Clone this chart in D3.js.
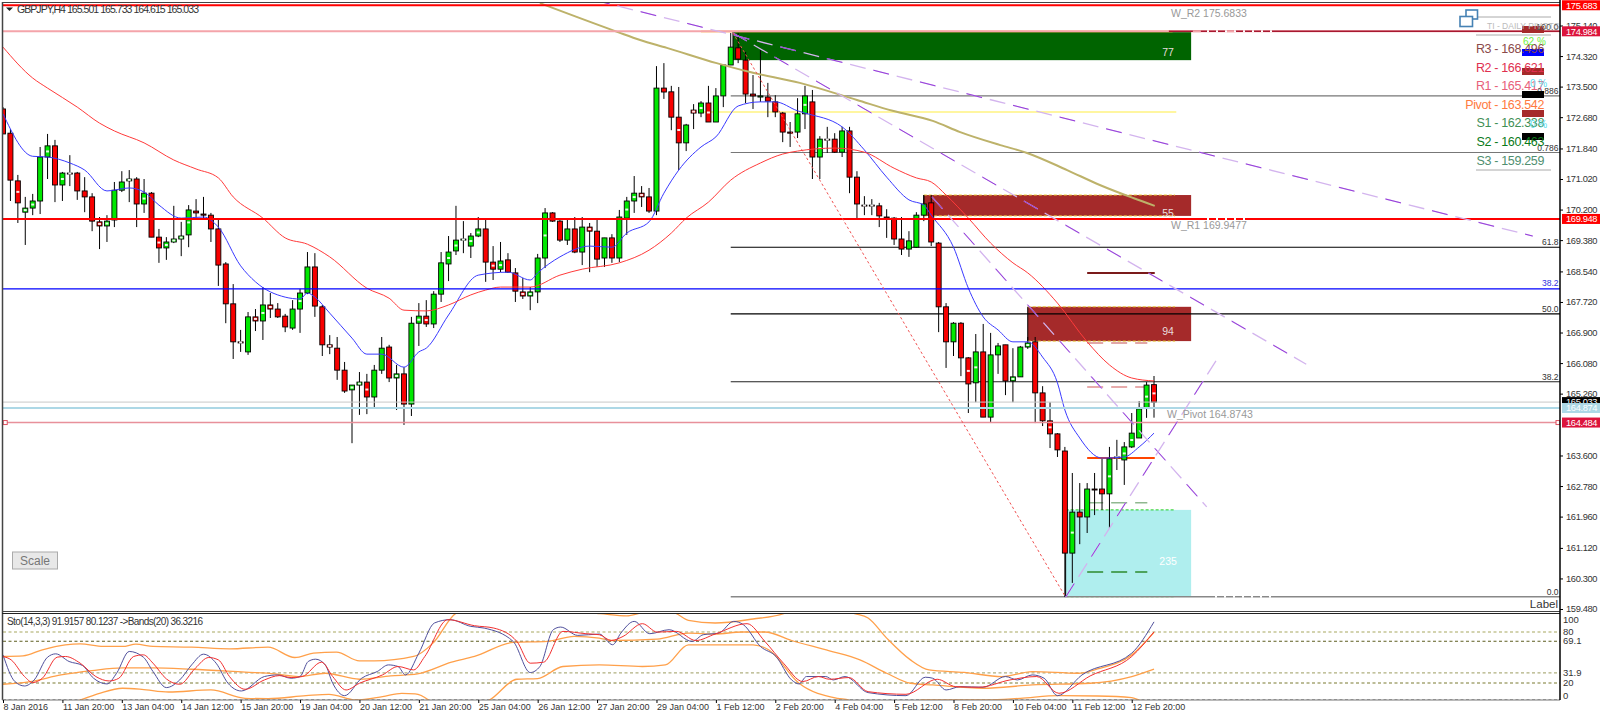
<!DOCTYPE html>
<html><head><meta charset="utf-8"><script src="https://cdn.jsdelivr.net/npm/d3@7"></script>
<style>html,body{margin:0;padding:0;background:#fff}svg{display:block}text{font-family:"Liberation Sans",Arial,sans-serif}</style></head><body><svg id="c" width="1600" height="720"></svg><script>
const opens=[172.90,172.25,170.97,170.13,170.24,170.43,171.61,171.91,170.86,171.18,171.18,170.70,170.54,169.87,169.76,169.92,170.72,170.97,171.02,170.35,170.64,169.46,169.17,169.33,169.41,169.52,170.16,170.08,170.05,169.68,168.74,167.67,166.65,166.38,167.32,167.21,167.64,167.53,167.34,167.02,167.53,167.96,168.66,167.59,166.57,166.48,165.89,165.36,165.49,165.57,165.17,165.89,166.51,165.68,165.79,164.98,167.15,167.34,167.13,167.93,168.74,169.09,169.38,169.22,169.49,169.68,168.79,168.60,168.85,168.50,167.99,167.88,167.99,168.90,170.11,169.89,169.38,169.68,169.06,169.73,169.62,168.90,169.44,168.90,169.97,170.43,170.64,170.54,170.16,173.46,173.36,172.68,171.99,172.87,172.79,173.06,172.55,173.25,174.08,174.54,174.21,173.30,173.22,173.22,173.09,172.79,172.28,172.28,172.77,173.09,171.61,172.09,172.09,171.74,172.31,171.07,170.32,170.32,170.30,170.00,169.97,169.41,169.14,169.19,170.05,170.38,169.30,167.59,166.65,167.15,166.22,165.55,166.38,164.63,166.30,166.57,165.60,165.71,166.51,166.65,165.28,164.53,164.18,163.72,160.98,162.08,161.95,162.70,162.70,162.57,163.54,163.48,163.83,164.07,164.87,165.501];
const highs=[172.95,172.36,171.13,170.54,170.62,171.88,172.23,172.07,171.21,171.66,171.21,171.07,170.64,170.00,170.05,170.94,171.23,171.26,171.07,171.02,170.67,169.68,169.46,170.30,169.87,170.32,170.48,170.54,170.11,169.92,168.79,168.20,166.97,167.45,167.53,168.12,167.96,167.69,167.40,167.77,168.07,169.06,169.03,167.64,166.83,166.78,166.11,165.49,165.84,165.79,166.03,166.78,166.57,166.03,165.97,167.32,167.69,167.77,168.01,169.06,169.49,170.30,169.89,169.57,170.00,169.92,169.22,169.33,169.03,168.63,168.36,168.12,169.01,170.24,170.13,169.92,169.97,170.00,170.00,169.84,169.92,169.44,169.54,170.19,170.54,171.10,170.83,170.78,174.05,174.13,173.52,173.49,172.50,173.03,173.11,173.52,173.46,174.08,174.94,174.94,174.43,173.81,174.48,173.60,173.27,172.82,172.55,173.19,173.52,173.41,172.17,172.42,172.25,172.42,172.42,171.23,170.56,170.48,170.38,170.21,170.00,170.00,169.62,170.13,170.59,170.59,169.33,167.69,167.18,167.18,166.24,166.86,167.13,166.89,166.62,166.57,166.48,166.54,166.78,166.78,165.46,165.03,164.20,163.83,163.13,162.86,162.86,163.13,163.51,163.83,164.02,163.96,164.74,165.06,165.57,165.733];
const lows=[172.23,170.43,169.84,169.25,170.05,170.08,171.02,170.40,170.43,170.83,170.46,170.13,169.62,169.14,169.33,169.73,170.67,170.40,169.73,170.11,169.46,168.77,168.85,169.30,168.95,169.19,169.97,169.97,169.33,168.15,167.15,166.19,166.38,166.30,166.94,166.70,167.29,167.29,166.91,166.97,166.89,167.93,167.32,166.27,166.32,165.63,165.28,163.93,164.69,164.71,164.90,165.79,165.57,164.82,164.42,164.66,166.54,167.05,167.02,167.72,168.28,168.98,169.03,168.90,169.46,168.26,168.31,168.52,168.50,167.72,167.80,167.50,167.69,168.63,169.87,169.33,169.25,169.03,168.71,168.52,168.66,168.66,168.77,168.79,169.52,170.11,170.27,170.11,170.05,173.17,172.33,171.26,171.77,172.36,172.68,172.55,172.55,172.95,174.08,174.13,173.06,172.90,173.09,172.68,172.68,172.01,171.88,172.12,172.36,171.02,171.02,171.72,171.72,171.61,170.64,169.97,170.05,170.05,169.73,169.44,169.25,168.98,168.93,169.17,169.89,169.22,166.91,165.95,166.27,165.73,164.74,165.03,164.63,164.50,165.79,165.22,165.03,165.71,166.46,164.47,164.39,163.80,163.56,159.80,160.18,161.22,161.52,162.00,162.14,161.65,163.21,162.81,163.80,164.07,164.61,164.615];
const closes=[172.23,170.99,170.38,170.24,170.43,171.61,171.91,170.86,171.18,171.16,170.70,170.54,169.89,169.76,169.89,170.72,170.94,171.02,170.35,170.64,169.46,169.17,169.33,169.41,169.49,170.19,170.11,170.05,169.68,168.71,167.67,166.65,166.62,167.32,167.21,167.64,167.53,167.32,167.05,167.53,167.96,168.66,167.61,166.57,166.51,165.89,165.33,165.49,165.57,165.17,165.89,166.48,165.68,165.79,164.98,167.15,167.34,167.13,167.93,168.77,169.06,169.38,169.41,169.49,169.68,168.79,168.60,168.82,168.52,168.01,167.88,167.99,168.90,170.11,169.89,169.38,169.68,169.06,169.73,169.62,168.87,169.44,168.90,170.00,170.43,170.64,170.54,170.16,173.46,173.355,172.68,171.99,172.47,172.79,173.06,172.55,173.25,174.08,174.56,174.24,173.30,173.25,173.25,173.11,172.82,172.28,172.25,172.77,173.25,171.61,172.09,172.07,171.74,172.31,171.07,170.35,170.30,170.30,170.03,169.97,169.41,169.14,169.36,170.05,170.35,169.33,167.59,166.65,167.15,166.22,165.52,166.38,164.63,166.30,166.54,165.60,165.71,166.51,166.62,165.28,164.53,164.18,163.75,160.98,162.08,161.95,162.70,162.68,162.57,163.51,163.56,163.83,164.20,164.85,165.49,165.033];
const markedCandles=[2,3,4,6,8,9,13,14,17,19,21,22,23,24,25,32,34,35,36,40,44,47,48,49,53,56,57,60,61,62,63,64,66,67,70,71,73,79,84,85,86,91,93,94,95,108,110,111,116,117,130,131,136,138,141,144,149,150,151,152,154,155];

const blueIdx=[0,4,6,9,11,14,17,19,21,24,27,29,32,34,38,40,41,42,44,47,49,51,54,56,57,60,64,68,71,72,75,79,82,84,87,89,91,94,96,99,102,104,107,108,113,116,119,122,124,125,128,130,132,134,136,138,140,142,143,145,148,151,153,155];
const blueVal=[172.77,171.63,171.61,171.45,171.26,170.70,170.78,170.67,170.32,169.97,170.00,169.73,168.69,168.26,167.85,167.80,167.96,167.85,167.42,166.75,166.32,166.32,165.97,166.38,166.48,167.37,168.44,168.52,168.31,168.50,168.93,169.22,169.19,169.57,169.87,170.64,171.26,171.88,172.15,172.98,173.09,173.09,172.85,172.79,172.42,171.80,171.07,170.46,170.32,170.05,169.19,168.09,167.32,166.97,166.65,166.65,166.24,165.55,164.82,164.07,163.53,163.56,163.83,164.20];
const redIdx=[0,4,6,10,13,15,19,23,26,29,31,35,38,41,44,49,52,54,57,60,63,65,67,71,75,78,83,87,90,92,95,98,102,105,107,112,116,120,123,125,127,130,133,136,138,142,146,149,152,155];
const redVal=[174.56,173.73,173.46,172.95,172.52,172.31,171.99,171.53,171.29,171.05,170.54,169.97,169.44,169.27,168.93,168.09,167.82,167.50,167.48,167.64,167.91,168.04,168.12,168.12,168.44,168.60,168.77,169.11,169.57,169.97,170.40,170.99,171.45,171.69,171.77,171.85,171.74,171.31,171.05,170.94,170.59,169.97,169.30,168.77,168.50,167.69,166.65,166.03,165.68,165.60];
const tanIdx=[72.3,82.7,85.8,89.4,96.1,100.6,107.3,115,119.8,125.2,128.9,134.3,137.9,143.3,147.7,152.2,155.1];
const tanVal=[175.74,174.97,174.75,174.54,174.13,173.89,173.60,173.14,172.85,172.58,172.28,171.93,171.72,171.26,170.86,170.51,170.30];

const stoIdx=[0,1.6,2.9,4.2,6,7.1,8.9,10.7,12.2,14,15.3,17,18.9,20.2,22,23.8,25.4,27,28.7,30.3,32.1,35.2,37,38.8,40,41.1,42.1,43.4,44.4,46,48.3,50.4,51.9,53.2,54.2,56,58.1,60.2,63,64.8,68.7,71,72.3,74.1,75.1,77.4,80.3,82.1,83.2,85,87.1,89.7,92.8,94.3,96.4,98.4,99.7,102,104.1,106.2,107.2,108.2,110.8,111.8,113.4,116.5,121.6,124.2,125.2,127,128.9,132,135,136.6,138.6,140.2,142,145.3,152,155];
const stoVal=[53.1,21.7,16.5,23.6,50.4,54.3,45.3,40.6,25.6,18.9,31.5,57.1,50.4,33.5,14.6,23.6,41.3,53.9,43.3,19.7,10.6,27.6,29.5,25.6,27.6,45.3,48,41.3,19.7,5.1,25.6,33.5,41.3,39.4,29.5,55.1,90.6,94.5,86.6,84.6,68.9,32.3,39.4,82.7,85.8,76,77.6,65,78.7,92.5,78,82.7,68.9,76.8,78.7,92.5,88.6,63,51.2,23.6,18.9,27.6,27.6,23.6,27.6,8.7,5.1,26.8,25.6,11.8,15.7,15,27.6,23.6,29.5,25.6,5.1,29.5,55.1,91.92];
const sigIdx=[0,1.1,2.9,4,5.3,7.3,8.4,10.4,12.5,14.3,15.6,17.6,18.9,20.2,22,23.8,25.9,27.7,29,30.5,32.6,35.2,37.2,38.8,40.3,42.9,44.4,46.2,48,51.1,53.2,55.3,56.8,59.9,63.5,66.1,69.2,71,72.8,75.4,78.5,80.3,81.9,83.5,86.1,88.1,90.7,93.3,95.9,100.2,102.6,105.1,107.7,109.8,111.3,113.9,116.5,121.6,125.8,128.3,131.4,135.6,139.2,142.2,146.4,152,155];
const sigVal=[51.2,47.2,27.6,20.5,25.6,50.4,51.2,43.3,27.6,22.4,25.6,51.2,53.1,43.3,24.8,18.5,37.4,50,47.2,27.6,12.6,23.6,28.7,26.4,27.6,44.5,27.6,11.8,19.7,29.5,39.4,35.4,51.2,94.5,87.4,84.6,68.9,43.3,44.5,80.7,78,76.8,70,74.8,89.8,79.9,80.7,70,77.6,89.8,68.9,43.3,21.7,27.6,24.4,26.4,9.8,6.7,24.4,15.7,15,23.6,27.6,7.9,28.3,51.2,80.12];
const upIdx=[0,2.7,5.3,8.4,10.4,13.5,16.1,17.9,20.2,25.4,30.5,35.7,39.3,41.8,44.9,48,50,55.3,57.9,61,62,70,80.4,84,85.5,88,90.7,92.3,95.9,101,105.1,108,114.7,116.5,119,122.2,124.7,129.4,134.5,138.6,144.8,147.4,152,155];
const upVal=[51.2,51.9,59.1,64.9,66.1,63,63,65.8,63,62.2,60.2,62.2,50,55.1,56.3,46,46,51.2,66.9,102,105,108,101.6,99,101.6,110,101.6,93.7,90.6,95.3,101.6,115,101.6,96.5,72.8,47.2,35.4,32.5,27.6,33.5,31.5,36.6,53.1,79.5];
const midIdx=[0,3.7,7.8,12,16.1,20.2,25.4,32.6,36.7,39.8,43.4,48,52.2,55.8,60.4,63.5,68.7,73.3,76.9,80.3,81.9,88.1,92.3,95.9,99.5,102.6,106.2,111.3,115.4,119,122.2,125.2,132,138.6,146.4,152,155];
const midVal=[18.5,21.7,29.5,34.6,37.8,37.8,36.2,32.7,30.7,27.6,31.5,24.4,28.3,30.7,44.5,51.2,67.7,68.9,74.8,72.8,70,71.7,78.7,77.6,80,80,70,57.9,47.2,31.5,19.7,17.7,13.8,17.7,19.7,27.6,36.3];
const lowIdx=[8,10.4,13,16.1,18.7,22.3,28,32.6,35.7,40.8,43.9,47.5,51.1,53.7,55.5,57.3,58,64,65.5,69.2,72,75.4,80.3,86.1,89.2,92.3,101,103.1,107.2,112.4,113.9,115,122,123.7,132.5,137,142.2,147.4,152,153,155];
const lowVal=[-5,0,7.9,13.8,12.6,9.4,11.8,2,1.6,5.1,6.7,0,3.9,7.9,7.1,0,-5,-5,0,24.4,25.2,39.4,41.3,39.4,41.3,64.9,64.9,59.1,19.7,2,0,-5,-5,0,0,2,5.1,4.7,2.8,0,-5];

const priceTicks=[175.14,174.32,173.5,172.68,171.84,171.02,170.2,169.38,168.54,167.72,166.9,166.08,165.26,163.6,162.78,161.96,161.12,160.3,159.48];
const dateIdx=[0,8,16,24,32,40,48,56,64,72,80,88,96,104,112,120,128,136,144,152];
const dateLabels=["8 Jan 2016","11 Jan 20:00","13 Jan 04:00","14 Jan 12:00","15 Jan 20:00","19 Jan 04:00","20 Jan 12:00","21 Jan 20:00","25 Jan 04:00","26 Jan 12:00","27 Jan 20:00","29 Jan 04:00","1 Feb 12:00","2 Feb 20:00","4 Feb 04:00","5 Feb 12:00","8 Feb 20:00","10 Feb 04:00","11 Feb 12:00","12 Feb 20:00"];
const stoLevels=[80,69.1,31.9,20,0];
const stoLabels=[100,80,69.1,31.9,20,0];

const levelPrices=[175.683,174.984,169.948,168.07,165.033,164.874,164.484];
const tagPrices=[175.683,174.984,169.948,165.033,164.874,164.484];
const fibPrices=[173.25,171.73,169.19,167.40,165.58,159.81];
const fibLabels=["0.886","0.786","61.8","50.0","38.2","0.0"];
const yellowPrice=172.82;

const zoneStart=[98.3,124,138,143.1];
const zoneEnd=[160,160,160,160];
const zoneTop=[174.98,170.59,167.59,162.14];
const zoneBottom=[174.21,170.03,166.67,159.81];
const zoneLabels=["77","55","94","235"];
const zoneLabelPrice=[174.44,170.12,166.94,160.77];

const trendFrom=[[79.6,175.824],[98.3,174.94],[125.1,170.54],[143.1,159.80]];
const trendTo=[[206,169.49],[175.5,166.05],[162.1,162.22],[163.6,166.22]];
const dotFrom=[98.3,174.94], dotTo=[143.1,159.80];
const segStart=146, segEnd=155.1;
const segPrices=[168.50,166.62,165.44,163.53,162.33,160.47];

const pivotTexts=["R3 - 168.496","R2 - 166.621","R1 - 165.417","Pivot - 163.542","S1 - 162.338","S2 - 160.463","S3 - 159.259"];

const svg=d3.select('#c');
const X=d3.scaleLinear().domain([0,155]).range([3,1154]);
const Y=d3.scaleLinear().domain([175.14,159.48]).range([25.5,609]);
const S=d3.scaleLinear().domain([0,100]).range([700,615]);
const defs=svg.append('defs');
defs.append('clipPath').attr('id','m').append('rect').attr('x',3).attr('y',3).attr('width',1557).attr('height',608);
defs.append('clipPath').attr('id','s').append('rect').attr('x',3).attr('y',614).attr('width',1557).attr('height',86);
const main=svg.append('g').attr('clip-path','url(#m)');
const sub=svg.append('g').attr('clip-path','url(#s)');
const L=1560;

// zones
const zoneFill=['#006400','#a52a2a','#a52a2a','#afeeee'];
const zoneEdge=['#ffa500','#e8c830','#e8c830','#20d020'];
zoneTop.forEach((t,i)=>{
  const x0=X(zoneStart[i]),x1=X(zoneEnd[i]),y0=Y(t),y1=Y(zoneBottom[i]);
  main.append('rect').attr('x',x0).attr('y',y0).attr('width',x1-x0).attr('height',y1-y0).attr('fill',zoneFill[i]);
  main.append('line').attr('x1',x0).attr('x2',x0).attr('y1',y0).attr('y2',y1).attr('stroke','#000');
  if(i>0)[y0,y1].forEach(y=>main.append('line').attr('x1',x0).attr('x2',x1-16).attr('y1',y).attr('y2',y).attr('stroke',zoneEdge[i]).attr('stroke-dasharray','3 2'));
  else main.append('line').attr('x1',X(94)).attr('x2',X(157.5)).attr('y1',y0).attr('y2',y0).attr('stroke',zoneEdge[i]).attr('stroke-width',1.5);
  main.append('text').attr('x',x1-23).attr('y',Y(zoneLabelPrice[i])+4).attr('text-anchor','middle').attr('font-size',10.5).attr('fill',i==3?'#fff':'#e8dcdc').text(zoneLabels[i]);
});

// fib lines
const fibCol=['#777','#777','#000','#000','#222','#888'];
fibPrices.forEach((p,i)=>{
  main.append('line').attr('x1',X(98)).attr('x2',L).attr('y1',Y(p)).attr('y2',Y(p)).attr('stroke',fibCol[i]).attr('stroke-width',i==5?1.5:1.1);
  main.append('text').attr('x',1558.5).attr('y',Y(p)-2).attr('text-anchor','end').attr('font-size',8.5).attr('fill','#333').text(fibLabels[i]);
});
main.append('text').attr('x',1558.5).attr('y',Y(168.07)-3).attr('text-anchor','end').attr('font-size',8.5).attr('fill','#3030e0').text('38.2');
main.append('line').attr('x1',X(94)).attr('x2',X(158)).attr('y1',Y(yellowPrice)).attr('y2',Y(yellowPrice)).attr('stroke','#fff6a0').attr('stroke-width',2);

// short segments
const segCol=['#7a1a1a','#d88a8a','#e09090','#ff4500','#90b890','#2e8b2e'];
const segDash=[null,'16 8',"16 8",null,'16 8','16 8'];
segPrices.forEach((p,i)=>{
  const l=main.append('line').attr('x1',X(segStart)).attr('x2',X(i==3||i==0?segEnd:segEnd-1)).attr('y1',Y(p)).attr('y2',Y(p)).attr('stroke',segCol[i]).attr('stroke-width',i==3||i==0?2:1.5);
  if(segDash[i])l.attr('stroke-dasharray',segDash[i]);
});

// candles
const bodyW=5;
const cand=main.append('g');
closes.forEach((c,i)=>{
  const o=opens[i],x=X(i);
  cand.append('line').attr('x1',x).attr('x2',x).attr('y1',Y(highs[i])).attr('y2',Y(lows[i])).attr('stroke','#000');
  const top=Y(Math.max(o,c)),bot=Y(Math.min(o,c));
  cand.append('rect').attr('x',x-bodyW/2).attr('y',top).attr('width',bodyW).attr('height',Math.max(bot-top,1)).attr('fill',c>=o?'#00e800':'#f80000').attr('stroke','#000').attr('stroke-width',0.9);
});
markedCandles.forEach(i=>{
  cand.append('rect').attr('x',X(i)-1.5).attr('y',Y((opens[i]+closes[i])/2)-1).attr('width',3).attr('height',2).attr('fill','#fff').attr('opacity',0.9);
});

// moving averages
const lineM=d3.line().x(d=>X(d[0])).y(d=>Y(d[1])).curve(d3.curveMonotoneX);
const zip=(a,b)=>a.map((v,i)=>[v,b[i]]);
main.append('path').attr('d',lineM(zip(tanIdx,tanVal))).attr('fill','none').attr('stroke','#bdb26a').attr('stroke-width',2);
main.append('path').attr('d',lineM(zip(blueIdx,blueVal))).attr('fill','none').attr('stroke','#3a3aff').attr('stroke-width',1);
main.append('path').attr('d',lineM(zip(redIdx,redVal))).attr('fill','none').attr('stroke','#ff3a3a').attr('stroke-width',1);

// levels
const lvlCol=['#ff0000','#f4a4aa','#ff0000','#0000ff','#c8c8c8','#add8e6','#e8909a'];
const lvlW=[2,2,2,1.3,1,2,1.6];
levelPrices.forEach((p,i)=>main.append('line').attr('x1',3).attr('x2',L).attr('y1',Y(p)).attr('y2',Y(p)).attr('stroke',lvlCol[i]).attr('stroke-width',lvlW[i]));
main.append('line').attr('x1',X(157)).attr('x2',L).attr('y1',Y(174.984)).attr('y2',Y(174.984)).attr('stroke','#a81830').attr('stroke-width',1.5);
main.append('line').attr('x1',X(157)).attr('x2',X(157)+90).attr('y1',Y(174.984)).attr('y2',Y(174.984)).attr('stroke','#f4a4aa').attr('stroke-width',2).attr('stroke-dasharray','0 24 8 2');
// white text-like gaps crossing lines
[[174.984,1207,1272],[169.948,1207,1245],[159.81,1215,1272]].forEach(d=>main.append('line').attr('x1',d[1]).attr('x2',d[2]).attr('y1',Y(d[0])).attr('y2',Y(d[0])).attr('stroke','#fff').attr('stroke-width',2).attr('stroke-dasharray','2 7'));
[X(0.3),1558].forEach(x=>main.append('rect').attr('x',x-2).attr('y',Y(164.484)-2).attr('width',4).attr('height',4).attr('fill','#fff').attr('stroke','#e05060'));

// trend lines
trendFrom.forEach((a,i)=>{
  const b=trendTo[i];
  const ln=main.append('g');
  ln.append('line').attr('x1',X(a[0])).attr('y1',Y(a[1])).attr('x2',X(b[0])).attr('y2',Y(b[1])).attr('stroke','#d3b4ee').attr('stroke-width',1.3).attr('stroke-dasharray','16 8');
  ln.append('line').attr('x1',X(a[0])).attr('y1',Y(a[1])).attr('x2',X(b[0])).attr('y2',Y(b[1])).attr('stroke','#9030d8').attr('stroke-width',0.9).attr('stroke-dasharray','16 32');
});
main.append('line').attr('x1',X(dotFrom[0])).attr('y1',Y(dotFrom[1])).attr('x2',X(dotTo[0])).attr('y2',Y(dotTo[1])).attr('stroke','#f05050').attr('stroke-dasharray','2.5 2.5');

// text labels on chart
[['W_R2 175.6833',1171,17],['W_R1 169.9477',1171,229],['W_Pivot 164.8743',1167,418]].forEach(d=>main.append('text').attr('x',d[1]).attr('y',d[2]).attr('font-size',10.5).attr('fill','#999').text(d[0]));
svg.append('text').attr('x',1558).attr('y',608).attr('text-anchor','end').attr('font-size',11.5).attr('fill','#333').text('Label');
svg.append('text').attr('x',17).attr('y',13).attr('font-size',10.5).attr('fill','#333').attr('textLength',182).text('GBPJPY,H4  165.501 165.733 164.615 165.033');
svg.append('path').attr('d','M6 7.5h7l-3.5 3.5z').attr('fill','#222');

// dashboard block
const blockCol=['#a52a2a','#0000ff','#a52a2a','#000','#a52a2a','#000'];
const blockY=[26,49,68,91,110,133];
blockY.forEach((y,i)=>svg.append('rect').attr('x',1522).attr('y',y).attr('width',22).attr('height',7).attr('fill',blockCol[i]));
[17,35,170].forEach(y=>svg.append('line').attr('x1',1476).attr('x2',1551).attr('y1',y).attr('y2',y).attr('stroke','#aaa'));
const pivCol=['#8b4a4a','#e0304f','#e8607a','#ff7a40','#3f8f55','#0a7a1a','#4f8f70'];
pivotTexts.forEach((t,i)=>svg.append('text').attr('x',1544).attr('y',53+i*18.6).attr('text-anchor','end').attr('font-size',12.5).attr('letter-spacing',-0.35).attr('fill',pivCol[i]).text(t));
svg.append('text').attr('x',1523).attr('y',45).attr('font-size',10).attr('fill','#70f040').text('62 %');
svg.append('text').attr('x',1530).attr('y',87).attr('font-size',10).attr('fill','#60e0f0').text('0 %');
svg.append('text').attr('x',1530).attr('y',128).attr('font-size',10).attr('fill','#60e0f0').text('0 %');
svg.append('text').attr('x',1487).attr('y',29).attr('font-size',8.5).attr('fill','#bbb').text('TI - DAILY PIVOTS');
svg.append('text').attr('x',1558.5).attr('y',30).attr('text-anchor','end').attr('font-size',9).attr('fill','#555').text('100.0');
svg.append('rect').attr('x',1466).attr('y',10).attr('width',11.5).attr('height',9).attr('fill','#fff').attr('stroke','#4682b4').attr('stroke-width',1.6);
svg.append('rect').attr('x',1460).attr('y',16.5).attr('width',12.5).attr('height',10).attr('fill','#fff').attr('stroke','#4682b4').attr('stroke-width',1.6);

// Scale button
svg.append('rect').attr('x',12.5).attr('y',552).attr('width',45).attr('height',17).attr('fill','#e8e8e8').attr('stroke','#aaa');
svg.append('text').attr('x',35).attr('y',565).attr('text-anchor','middle').attr('font-size',12).attr('fill','#777').text('Scale');

// sub panel
const sc=['#a8a860','#5e5e20','#b0b080','#7a7a30','#555'];
stoLevels.forEach((v,i)=>sub.append('line').attr('x1',3).attr('x2',L).attr('y1',S(v)).attr('y2',S(v)).attr('stroke',sc[i]).attr('stroke-width',1.1).attr('stroke-dasharray','3 2.5'));
const lineS=d3.line().x(d=>X(d[0])).y(d=>S(d[1])).curve(d3.curveMonotoneX);
[[upIdx,upVal],[midIdx,midVal],[lowIdx,lowVal]].forEach(a=>sub.append('path').attr('d',lineS(zip(a[0],a[1]))).attr('fill','none').attr('stroke','#ffa04a').attr('stroke-width',1.3));
sub.append('path').attr('d',lineS(zip(stoIdx,stoVal))).attr('fill','none').attr('stroke','#50509c').attr('stroke-width',1);
sub.append('path').attr('d',lineS(zip(sigIdx,sigVal))).attr('fill','none').attr('stroke','#f23030').attr('stroke-width',1);
svg.append('text').attr('x',7).attr('y',625).attr('font-size',10).attr('fill','#333').attr('textLength',196).text('Sto(14,3,3) 91.9157 80.1237  ->Bands(20) 36.3216');
stoLabels.forEach(v=>svg.append('text').attr('x',1563).attr('y',S(v)+(v==100?8:v==0?-1:3)).attr('font-size',9.5).attr('fill','#333').text(v));

// frames
const fr=(x1,y1,x2,y2,c,w)=>svg.append('line').attr('x1',x1).attr('x2',x2).attr('y1',y1).attr('y2',y2).attr('stroke',c).attr('stroke-width',w);
fr(2.5,2,2.5,700,'#444',1.5);fr(2,2.5,L,2.5,'#444',1.2);
fr(2,611.5,L,611.5,'#444',1);fr(2,613.5,L,613.5,'#222',1.2);fr(2,700,L,700,'#777',1.2);
fr(L,0,L,700,'#000',1.5);

// axes
const ay=svg.append('g').attr('transform',`translate(${L},0)`).call(d3.axisRight(Y).tickValues(priceTicks).tickFormat(d3.format('.3f')).tickSize(3).tickPadding(3));
ay.select('.domain').remove();
ay.selectAll('text').attr('font-size',9.3).attr('letter-spacing',-0.35).attr('fill','#333').style('font-family','"Liberation Sans"');
const ax=svg.append('g').attr('transform','translate(0,700)').call(d3.axisBottom(X).tickValues(dateIdx).tickFormat((d,i)=>dateLabels[i]).tickSize(3).tickPadding(1));
ax.select('.domain').remove();
ax.selectAll('text').attr('text-anchor','start').attr('x',0).attr('font-size',9).attr('fill','#333').style('font-family','"Liberation Sans"');

// price tags
const tagCol=['#ff0000','#dc143c','#ff0000','#000','#add8e6','#dc143c'];
tagPrices.forEach((p,i)=>{
  svg.append('rect').attr('x',1562).attr('y',Y(p)-5).attr('width',38).attr('height',10).attr('fill',tagCol[i]);
  svg.append('text').attr('x',1566).attr('y',Y(p)+3.3).attr('font-size',9.3).attr('letter-spacing',-0.35).attr('fill','#fff').text(d3.format('.3f')(p));
});
</script></body></html>
